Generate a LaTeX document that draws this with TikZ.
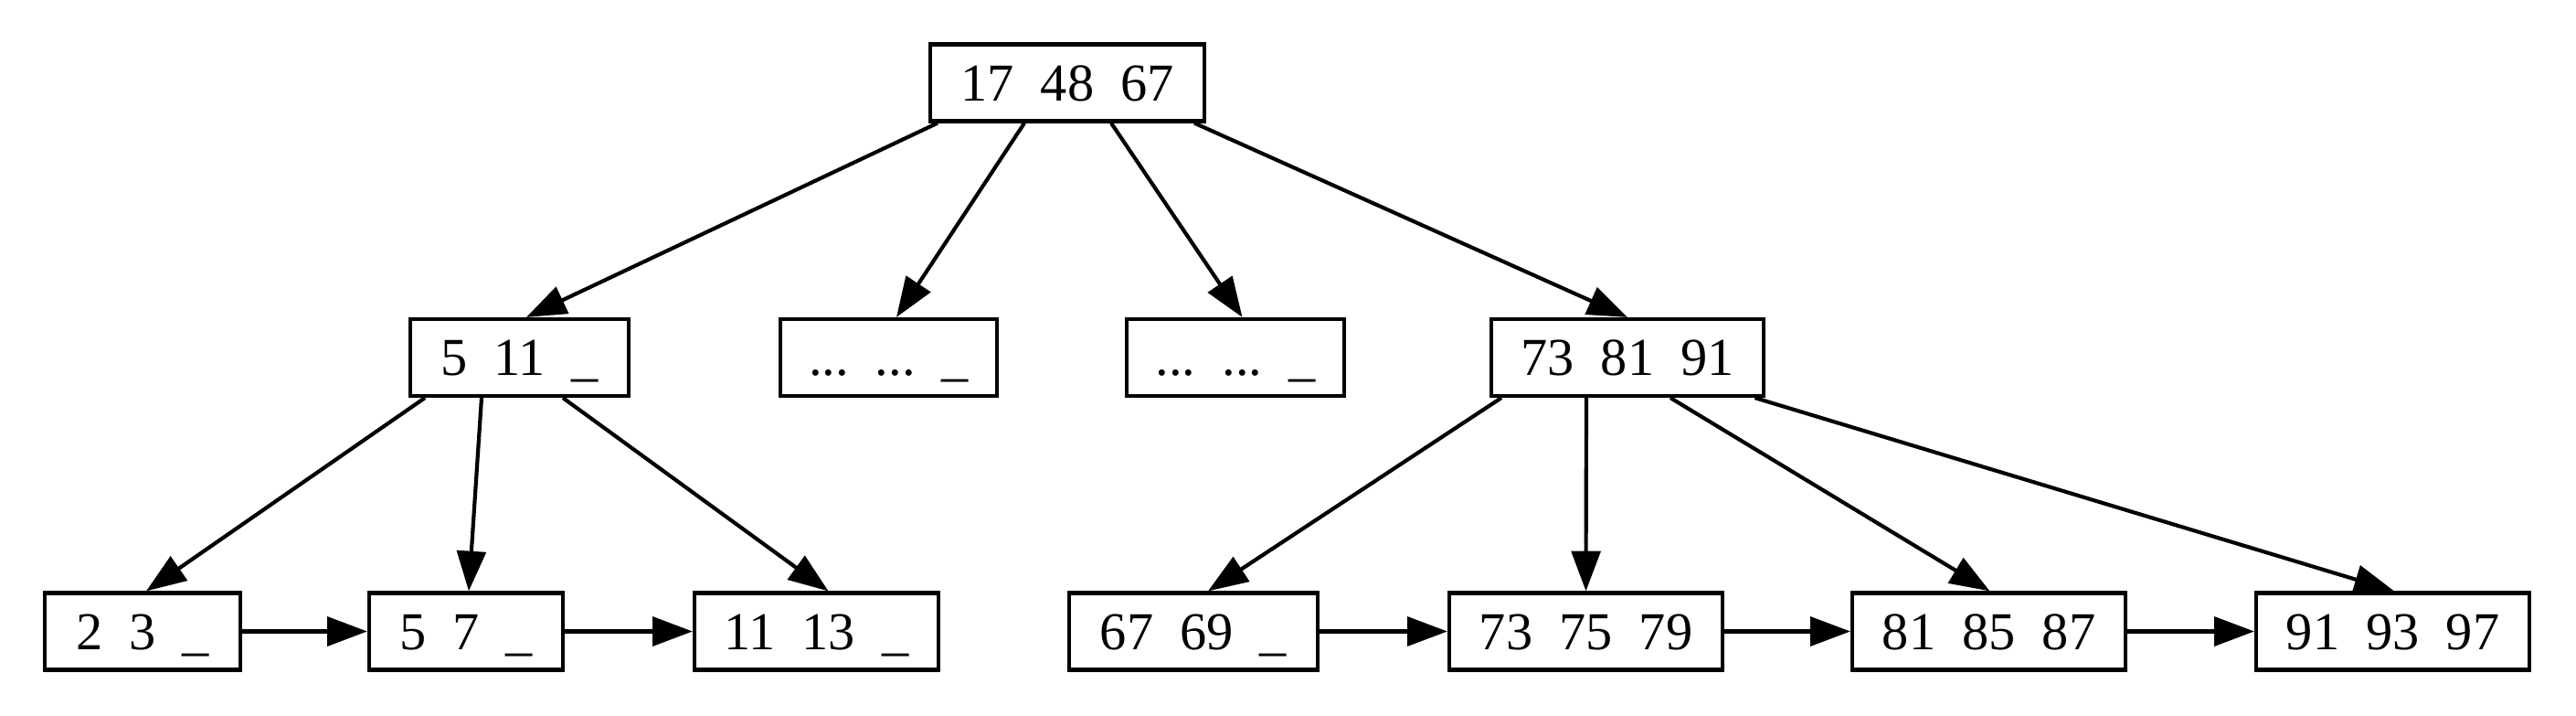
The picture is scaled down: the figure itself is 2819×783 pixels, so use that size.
\documentclass[tikz,border=0pt]{standalone}
\usepackage{fontspec}
\setmainfont{Liberation Serif}
\usetikzlibrary{arrows.meta,calc}
\begin{document}
\begin{tikzpicture}[x=0.24pt,y=-0.24pt,
  keybox/.style={draw,line width=1pt,inner sep=0pt,minimum height=84*0.24pt,
    text height=9.46pt,text depth=0pt,font=\fontsize{14pt}{16pt}\selectfont},
  bw/.style={minimum width=#1*0.24pt},
  link/.style={line width=1pt,-{Triangle[length=10.5pt,width=7.6pt]}}]
\useasboundingbox (0,0) rectangle (2819,783);
% level 0
\node[keybox,bw=300] (root) at (1168,90.5) {17~~48~~67};
% level 1
\node[keybox,bw=239] (a) at (568.5,391) {5~~11~~\_};
\node[keybox,bw=237] (d1) at (972.5,391) {...~~...~~\_};
\node[keybox,bw=238] (d2) at (1352,391) {...~~...~~\_};
\node[keybox,bw=298] (b) at (1781,391) {73~~81~~91};
% level 2
\node[keybox,bw=214] (l1) at (156,690.5) {2~~3~~\_};
\node[keybox,bw=212] (l2) at (510,690.5) {5~~7~~\_};
\node[keybox,bw=267] (l3) at (893.5,690.5) {11~~13~~\_};
\node[keybox,bw=272] (l4) at (1306,690.5) {67~~69~~\_};
\node[keybox,bw=299] (l5) at (1735.5,690.5) {73~~75~~79};
\node[keybox,bw=299] (l6) at (2176.5,690.5) {81~~85~~87};
\node[keybox,bw=299] (l7) at (2618.5,690.5) {91~~93~~97};
% root edges
\draw[link] ($(root.south)+(-142,0)$) -- ($(a.north)+(7.5,0)$);
\draw[link] ($(root.south)+(-47,0)$) -- ($(d1.north)+(8.5,0)$);
\draw[link] ($(root.south)+(48,0)$) -- ($(d2.north)+(7.5,0)$);
\draw[link] ($(root.south)+(139,0)$) -- ($(b.north)+(0,0)$);
% left inner edges
\draw[link] ($(a.south)+(-103.5,0)$) -- ($(l1.north)+(4,0)$);
\draw[link] ($(a.south)+(-41.5,0)$) -- ($(l2.north)+(3,0)$);
\draw[link] ($(a.south)+(47.5,0)$) -- ($(l3.north)+(13,0)$);
% right inner edges
\draw[link] ($(b.south)+(-138,0)$) -- ($(l4.north)+(16,0)$);
\draw[link] ($(b.south)+(-45,0)$) -- ($(l5.north)+(0,0)$);
\draw[link] ($(b.south)+(47,0)$) -- ($(l6.north)+(1,0)$);
\draw[link] ($(b.south)+(139.5,0)$) -- ($(l7.north)+(1.5,0)$);
% leaf chain
\draw[link] (l1.east) -- (l2.west);
\draw[link] (l2.east) -- (l3.west);
\draw[link] (l4.east) -- (l5.west);
\draw[link] (l5.east) -- (l6.west);
\draw[link] (l6.east) -- (l7.west);
\end{tikzpicture}
\end{document}
